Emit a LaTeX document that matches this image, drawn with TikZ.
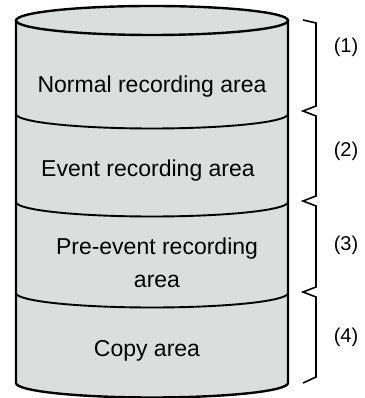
\documentclass[tikz,border=0pt]{standalone}
\usepackage{fontspec}
\setmainfont{Liberation Sans}
\definecolor{cylfill}{RGB}{220,221,221}
\begin{document}
\begin{tikzpicture}[x=1pt,y=1pt,
  cyl/.style={line width=2.4pt,black},
  sep/.style={line width=1.9pt,black},
  brace/.style={line width=1.6pt,black,line join=miter},
  area/.style={font=\fontsize{23}{33}\selectfont,align=center,inner sep=0pt},
  lbl/.style={font=\fontsize{20}{24}\selectfont,inner sep=0pt}]
\useasboundingbox (0,0) rectangle (364,398);
% cylinder body
\coordinate (tl) at (16,377.5);
\coordinate (tr) at (288,377.5);
\coordinate (bl) at (16,15);
\coordinate (br) at (288,15);
\fill[cylfill] (tl) -- (bl) arc[start angle=180,end angle=360,x radius=136pt,y radius=14.5pt]
  -- (tr) arc[start angle=0,end angle=180,x radius=136pt,y radius=14.5pt] -- cycle;
% separators
\coordinate (s1) at (16,284);
\coordinate (s2) at (16,196);
\coordinate (s3) at (16,105);
\draw[sep] (s1) arc[start angle=180,end angle=360,x radius=136pt,y radius=14.5pt];
\draw[sep] (s2) arc[start angle=180,end angle=360,x radius=136pt,y radius=14.5pt];
\draw[sep] (s3) arc[start angle=180,end angle=360,x radius=136pt,y radius=14.5pt];
% outline
\draw[cyl] (152,377.5) ellipse[x radius=136pt,y radius=14.5pt];
\draw[cyl,line join=round] (tl) -- (bl) arc[start angle=180,end angle=360,x radius=136pt,y radius=14.5pt] -- (tr);
% texts
\node[area] (a1) at (152,311) {Normal recording area};
\node[area] (a2) at (148,227) {Event recording area};
\node[area] (a3) at (157,135.5) {Pre-event recording\\area};
\node[area] (a4) at (147,47) {Copy area};
% braces
\draw[brace] (303,378) -- (316,375) -- (316,292) -- (303,287) -- (316,282) -- (316,202)
  -- (303,197) -- (316,192) -- (316,111) -- (303,106) -- (316,101) -- (316,21) -- (303,15);
\node[lbl] (l1) at (346,351) {(1)};
\node[lbl] (l2) at (346,247) {(2)};
\node[lbl] (l3) at (346,153) {(3)};
\node[lbl] (l4) at (346,61) {(4)};
\end{tikzpicture}
\end{document}
